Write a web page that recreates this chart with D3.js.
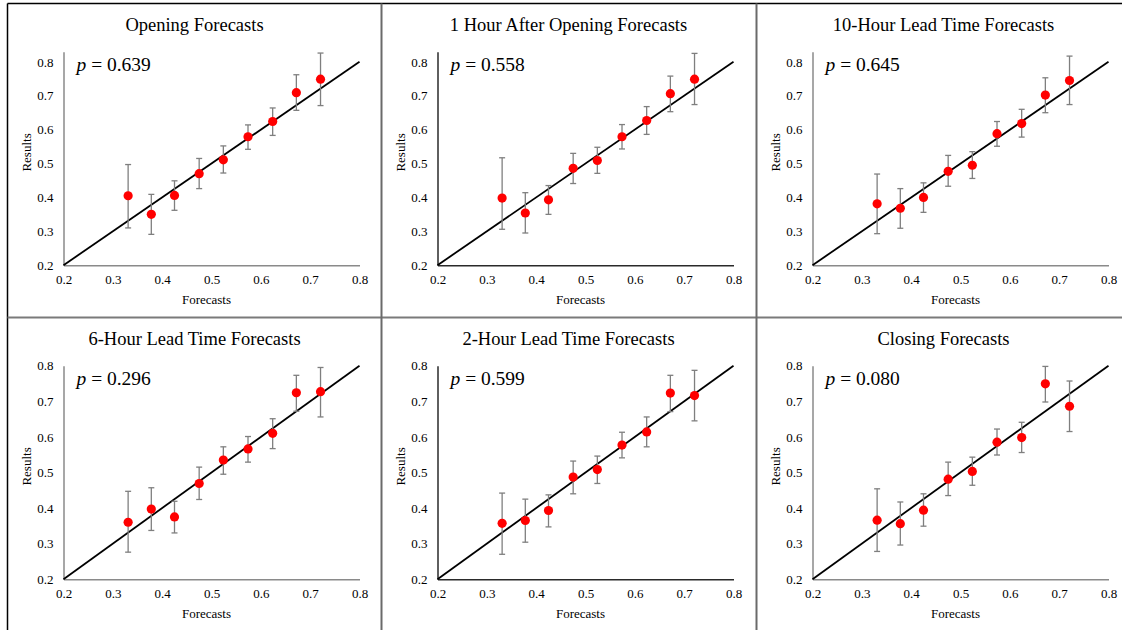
<!DOCTYPE html>
<html>
<head>
<meta charset="utf-8">
<script src="https://cdn.jsdelivr.net/npm/d3@7"></script>
<style>
  html, body { margin: 0; padding: 0; background: #fff; }
  svg { display: block; }
  text { font-family: "Liberation Serif", "Times New Roman", serif; fill: #000; }
</style>
</head>
<body>
<svg id="chart" width="1122" height="630"></svg>
<script>
// ---------- data ----------
const titles = [
  "Opening Forecasts", "1 Hour After Opening Forecasts", "10-Hour Lead Time Forecasts",
  "6-Hour Lead Time Forecasts", "2-Hour Lead Time Forecasts", "Closing Forecasts"
];
const pValues = ["0.639", "0.558", "0.645", "0.296", "0.599", "0.080"];
const forecasts = [0.331, 0.378, 0.425, 0.475, 0.524, 0.574, 0.624, 0.672, 0.721];

const resultsOpening = [0.405, 0.350, 0.406, 0.470, 0.511, 0.579, 0.624, 0.709, 0.749];
const lowerOpening   = [0.310, 0.291, 0.362, 0.426, 0.472, 0.542, 0.583, 0.657, 0.671];
const upperOpening   = [0.497, 0.409, 0.449, 0.515, 0.552, 0.614, 0.664, 0.762, 0.826];

const results1h = [0.398, 0.354, 0.393, 0.486, 0.509, 0.579, 0.627, 0.706, 0.749];
const lower1h   = [0.306, 0.295, 0.350, 0.441, 0.471, 0.543, 0.586, 0.653, 0.674];
const upper1h   = [0.517, 0.414, 0.435, 0.530, 0.548, 0.615, 0.668, 0.758, 0.825];

const results10h = [0.381, 0.368, 0.400, 0.477, 0.495, 0.588, 0.618, 0.702, 0.745];
const lower10h   = [0.293, 0.309, 0.356, 0.433, 0.456, 0.551, 0.578, 0.650, 0.674];
const upper10h   = [0.469, 0.426, 0.443, 0.524, 0.535, 0.624, 0.660, 0.753, 0.817];

const results6h = [0.360, 0.397, 0.375, 0.469, 0.535, 0.566, 0.610, 0.724, 0.727];
const lower6h   = [0.276, 0.337, 0.330, 0.424, 0.495, 0.529, 0.567, 0.672, 0.656];
const upper6h   = [0.447, 0.457, 0.419, 0.515, 0.572, 0.601, 0.651, 0.773, 0.795];

const results2h = [0.357, 0.365, 0.393, 0.487, 0.508, 0.577, 0.614, 0.723, 0.716];
const lower2h   = [0.270, 0.304, 0.347, 0.440, 0.469, 0.541, 0.572, 0.671, 0.645];
const upper2h   = [0.442, 0.425, 0.437, 0.532, 0.546, 0.613, 0.656, 0.773, 0.787];

const resultsClosing = [0.366, 0.356, 0.394, 0.481, 0.503, 0.585, 0.598, 0.749, 0.686];
const lowerClosing   = [0.278, 0.296, 0.349, 0.435, 0.464, 0.549, 0.556, 0.698, 0.615];
const upperClosing   = [0.454, 0.417, 0.440, 0.529, 0.543, 0.622, 0.641, 0.798, 0.757];

const tickValues = [0.2, 0.3, 0.4, 0.5, 0.6, 0.7, 0.8];
const yMaxTop = 0.83, yMaxBottom = 0.8;

const panelData = [
  [resultsOpening, lowerOpening, upperOpening],
  [results1h, lower1h, upper1h],
  [results10h, lower10h, upper10h],
  [results6h, lower6h, upper6h],
  [results2h, lower2h, upper2h],
  [resultsClosing, lowerClosing, upperClosing]
];

// ---------- layout ----------
const svg = d3.select("#chart");
const cellX = [7.5, 381.5, 756.5];
const cellY = [3.5, 317.5];
const cellW = 374, cellH = 314;
const axisColors = ["#8a8a8a", "#2a2a2a", "#8a8a8a", "#8a8a8a", "#2a2a2a", "#8a8a8a"];

// Cell borders
svg.append("line").attr("x1", cellX[0]).attr("x2", 1122).attr("y1", cellY[0]).attr("y2", cellY[0])
  .attr("stroke", "#000").attr("stroke-width", 1.5);
svg.append("line").attr("x1", cellX[0]).attr("x2", cellX[0]).attr("y1", cellY[0]).attr("y2", 630)
  .attr("stroke", "#000").attr("stroke-width", 1.5);
svg.append("line").attr("x1", cellX[0]).attr("x2", 1122).attr("y1", cellY[1]).attr("y2", cellY[1])
  .attr("stroke", "#7a7a7a").attr("stroke-width", 2);
[cellX[1], cellX[2]].forEach(x => {
  svg.append("line").attr("x1", x).attr("x2", x).attr("y1", cellY[0]).attr("y2", 630)
    .attr("stroke", "#6a6a6a").attr("stroke-width", 2);
});

titles.forEach((title, i) => {
  const col = i % 3, row = Math.floor(i / 3);
  const cx = cellX[col], cy = cellY[row];
  const g = svg.append("g");
  const left = cx + 56, top = cy + 48.2, w = 296, h = 213.5;
  const yMax = row === 0 ? yMaxTop : yMaxBottom;
  const x = d3.scaleLinear().domain([0.2, 0.8]).range([left, left + w]);
  const y = d3.scaleLinear().domain([0.2, yMax]).range([top + h, top]);
  const [res, lo, hi] = panelData[i];
  const axc = axisColors[i];

  // title
  g.append("text").attr("x", cx + cellW / 2).attr("y", cy + 27)
    .attr("text-anchor", "middle").style("font-size", "18.5px").text(title);

  // axes
  const xAxis = d3.axisBottom(x).tickValues(tickValues).tickSize(0).tickPadding(10)
    .tickFormat(d3.format(".1f"));
  const gx = g.append("g").attr("transform", `translate(0,${y(0.2)})`).call(xAxis);
  gx.select(".domain").attr("stroke", axc).attr("stroke-width", 1.5);
  gx.selectAll("text").style("font-size", "13px").style("font-family", "Liberation Serif").attr("fill", "#222");

  const yAxis = d3.axisLeft(y).tickValues(tickValues).tickSize(0).tickPadding(10)
    .tickFormat(d3.format(".1f"));
  const gy = g.append("g").attr("transform", `translate(${x(0.2)},0)`).call(yAxis);
  gy.select(".domain").attr("stroke", axc).attr("stroke-width", 1.5);
  gy.selectAll("text").style("font-size", "13px").style("font-family", "Liberation Serif").attr("fill", "#222");

  // axis titles
  g.append("text").attr("x", left + w / 2 - 5).attr("y", top + h + 39)
    .attr("text-anchor", "middle").style("font-size", "13px").text("Forecasts");
  g.append("text")
    .attr("transform", `translate(${left - 33},${top + h / 2 - 6}) rotate(-90)`)
    .attr("text-anchor", "middle").style("font-size", "13px").text("Results");

  // diagonal reference line
  g.append("line").attr("x1", x(0.2)).attr("y1", y(0.2)).attr("x2", x(0.8)).attr("y2", y(0.8))
    .attr("stroke", "#000").attr("stroke-width", 1.8);

  // error bars
  const eb = g.append("g").attr("stroke", "#7f7f7f").attr("stroke-width", 1.3).attr("fill", "none");
  forecasts.forEach((f, k) => {
    eb.append("line").attr("x1", x(f)).attr("x2", x(f)).attr("y1", y(lo[k])).attr("y2", y(hi[k]));
    eb.append("line").attr("x1", x(f) - 3).attr("x2", x(f) + 3).attr("y1", y(lo[k])).attr("y2", y(lo[k]));
    eb.append("line").attr("x1", x(f) - 3).attr("x2", x(f) + 3).attr("y1", y(hi[k])).attr("y2", y(hi[k]));
  });

  // points
  g.append("g").selectAll("circle").data(forecasts).join("circle")
    .attr("cx", d => x(d)).attr("cy", (d, k) => y(res[k])).attr("r", 4.6)
    .attr("fill", "#ff0000");

  // p annotation
  const pt = g.append("text").attr("x", left + 13).attr("y", top + 19.5).style("font-size", "19.5px");
  pt.append("tspan").style("font-style", "italic").text("p");
  pt.append("tspan").text(" = " + pValues[i]);
});
</script>
</body>
</html>
